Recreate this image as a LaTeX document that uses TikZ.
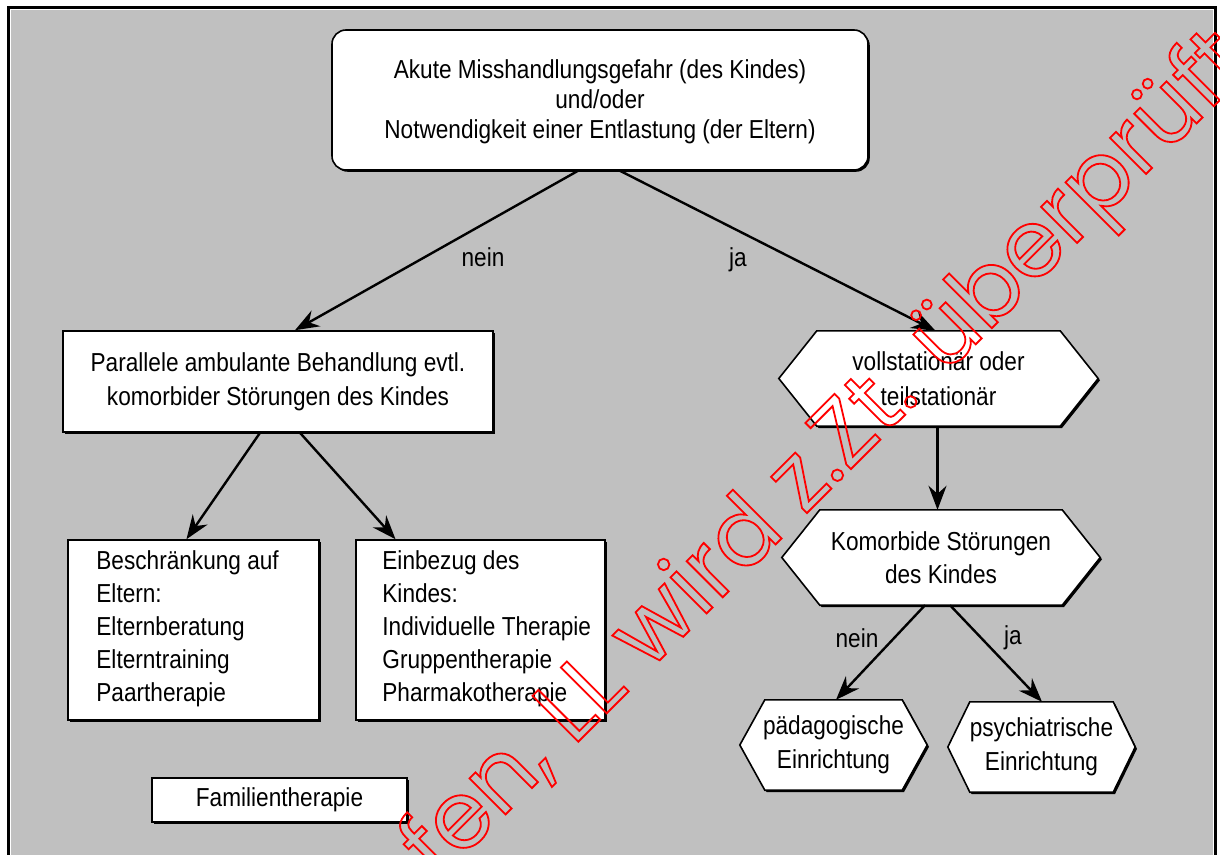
\documentclass[tikz,border=0pt]{standalone}
\usepackage{fontspec}
\setmainfont{Liberation Sans}[FakeStretch=0.87]
\newfontfamily\wmfont{Poppins}
\usetikzlibrary{arrows.meta,shadows}
\definecolor{bggray}{HTML}{C0C0C0}
\pgfdeclarelayer{back}
\pgfdeclarelayer{mid}
\pgfsetlayers{back,mid,main}
\newcommand\hexagon[4]{\path[#3] ([#4,xshift=#2]#1.north west) -- ([#4,xshift=-#2]#1.north east) -- ([#4]#1.east) -- ([#4,xshift=-#2]#1.south east) -- ([#4,xshift=#2]#1.south west) -- ([#4]#1.west) -- cycle;}
\newcommand\outlinetext[1]{\special{pdf:code 1 Tr 1.8 w 1 0 0 RG}#1\special{pdf:code 0 Tr}}
\tikzset{
  txt/.style={font=\fontsize{26}{30}\selectfont},
  box/.style={txt, draw=black, line width=1.6pt, fill=white, inner sep=0pt,
    drop shadow={shadow xshift=1.8pt, shadow yshift=-1.8pt, fill=black, opacity=1}},
  listtext/.style={inner sep=0pt, anchor=west, align=left, font=\fontsize{26}{33}\selectfont},
  hextext/.style={txt, inner sep=0pt, align=center},
  conn/.style={line width=2.4pt, -{Stealth[length=24pt,width=18pt,inset=8pt]}},
  lbl/.style={txt, inner sep=0pt},
}
\begin{document}
\begin{tikzpicture}[x=1pt,y=-1pt]
\useasboundingbox (0,0) rectangle (1220,854);
\clip (0,0) rectangle (1220,854);
\begin{pgfonlayer}{back}
\fill[white] (0,0) rectangle (1220,854);
\draw[line width=3pt, fill=bggray] (8.5,7) rectangle (1215,900);
\draw[white, line width=0.8pt] (10.6,9.1) rectangle (1212.9,900);
\end{pgfonlayer}

% top box
\node[box, rounded corners=14pt, minimum width=536pt, minimum height=140pt, align=center]
  (top) at (600,100) {\rule{0pt}{22pt}Akute Misshandlungsgefahr (des Kindes)\\und/oder\\Notwendigkeit einer Entlastung (der Eltern)};

% left branch
\node[box, minimum width=430pt, minimum height=101pt, align=center,
  font=\fontsize{26}{34}\selectfont] (par) at (278,381.5)
  {Parallele ambulante Behandlung evtl.\\komorbider Störungen des Kindes};
\node[box, minimum width=251pt, minimum height=180pt] (besch) at (193.5,630) {};
\node[listtext] (beschtext) at ([xshift=29pt,yshift=1pt]besch.west)
  {Beschränkung auf\\Eltern:\\Elternberatung\\Elterntraining\\Paartherapie};
\node[box, minimum width=249pt, minimum height=180pt] (einb) at (480.5,630) {};
\node[listtext] (einbtext) at ([xshift=27pt,yshift=1pt]einb.west)
  {Einbezug des\\Kindes:\\Individuelle Therapie\\Gruppentherapie\\Pharmakotherapie};
\node[box, minimum width=255pt, minimum height=44pt, align=center] (fam) at (279.5,800) {Familientherapie};

% right branch hexagons
\node[hextext, minimum width=319pt, minimum height=95pt, font=\fontsize{26}{35}\selectfont] (voll) at (938.5,378.5) {vollstationär oder\\teilstationär};
\node[hextext, minimum width=318pt, minimum height=95pt, font=\fontsize{26}{33}\selectfont] (komo) at (941,557.5) {Komorbide Störungen\\des Kindes};
\node[hextext, minimum width=187pt, minimum height=90pt, font=\fontsize{26}{34}\selectfont] (paed) at (833.5,745) {pädagogische\\Einrichtung};
\node[hextext, minimum width=187pt, minimum height=90pt, font=\fontsize{26}{34}\selectfont] (psych) at (1041.5,747) {psychiatrische\\Einrichtung};

\begin{pgfonlayer}{mid}
\hexagon{voll}{38pt}{fill=black}{xshift=1.8pt,yshift=-1.8pt}
\hexagon{voll}{38pt}{fill=white,draw=black,line width=1.6pt}{xshift=0pt}
\hexagon{komo}{38pt}{fill=black}{xshift=1.8pt,yshift=-1.8pt}
\hexagon{komo}{38pt}{fill=white,draw=black,line width=1.6pt}{xshift=0pt}
\hexagon{paed}{25pt}{fill=black}{xshift=1.8pt,yshift=-1.8pt}
\hexagon{paed}{25pt}{fill=white,draw=black,line width=1.6pt}{xshift=0pt}
\hexagon{psych}{22pt}{fill=black}{xshift=1.8pt,yshift=-1.8pt}
\hexagon{psych}{22pt}{fill=white,draw=black,line width=1.6pt}{xshift=0pt}
\end{pgfonlayer}

% connectors
\draw[conn] ([xshift=-22pt]top.south) -- ([xshift=17pt]par.north);
\draw[conn] ([xshift=20pt]top.south) -- ([xshift=-3pt]voll.north);
\draw[conn] ([xshift=-1pt]voll.south) -- ([xshift=-1pt]voll.south |- komo.north);
\draw[conn] ([xshift=-16pt]komo.south) -- ([xshift=2.5pt]paed.north);
\draw[conn] ([xshift=9pt]komo.south) -- ([xshift=0.5pt]psych.north);
\draw[conn] ([xshift=-18pt]par.south) -- ([xshift=-7pt]besch.north);
\draw[conn] ([xshift=22pt]par.south) -- ([xshift=-85pt]einb.north);

% labels
\node[lbl] (l1) at (483,257) {nein};
\node[lbl] (l2) at (738,260) {ja};
\node[lbl] (l3) at (857,638) {nein};
\node[lbl] (l4) at (1013,638) {ja};

% watermark
\node[rotate=45, anchor=base west, inner sep=0pt, font=\wmfont\fontsize{93}{93}\selectfont]
  (wm) at (438,882) {\outlinetext{fen, LL wird z.Zt. überprüft}};
\end{tikzpicture}
\end{document}
